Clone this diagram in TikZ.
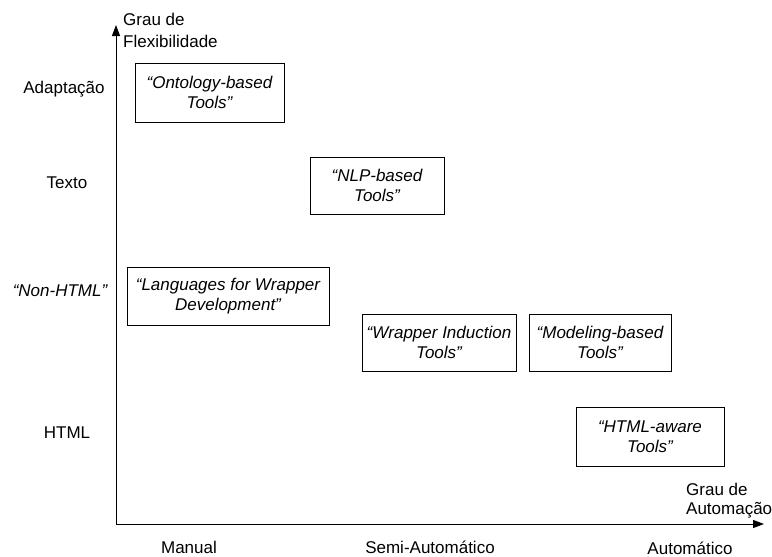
\documentclass[tikz,border=0pt]{standalone}
\usepackage{fontspec}
\setmainfont{Liberation Sans}
\usetikzlibrary{arrows.meta}
\begin{document}
\begin{tikzpicture}[x=1pt,y=-1pt,
  axis/.style={line width=1pt,-{Triangle[length=11pt,width=8pt]}},
  toolbox/.style={draw,line width=0.9pt,rectangle,inner sep=0pt,align=center,
    font=\fontsize{17}{20}\selectfont\itshape},
  lvl/.style={font=\fontsize{17}{20}\selectfont,anchor=base,inner sep=0pt},
  axlabel/.style={align=left,anchor=north west,inner sep=0pt}]
  \useasboundingbox (0,0) rectangle (772,557);

  % axes
  \coordinate (o) at (116,524);
  \coordinate (ytop) at (116,25);
  \coordinate (xend) at (764,524);
  \draw[axis] (o) -- (ytop);
  \draw[axis] (o) -- (xend);

  % axis titles
  \node[axlabel,font=\fontsize{17}{22}\selectfont] (ytitle) at (123,12.5) {Grau de\\Flexibilidade};
  \node[axlabel,font=\fontsize{17}{19}\selectfont] (xtitle) at (686,482.5) {Grau de\\Automação};

  % flexibility levels
  \node[lvl] (adapt) at (64,93) {Adaptação};
  \node[lvl] (texto) at (67,188) {Texto};
  \node[lvl] (nonhtml) at (60,296) {\itshape “Non-HTML”};
  \node[lvl] (html) at (67,438) {HTML};

  % automation levels
  \node[lvl] (manual) at (189,553) {Manual};
  \node[lvl] (semi) at (430,553) {Semi-Automático};
  \node[lvl] (auto) at (690,554) {Automático};

  % tool classes
  \node[toolbox,minimum width=149pt,minimum height=59pt] (onto) at (209.5,92.5) {“Ontology-based\\Tools”};
  \node[toolbox,minimum width=134pt,minimum height=57pt] (nlp) at (377,185.5) {“NLP-based\\Tools”};
  \node[toolbox,minimum width=202pt,minimum height=58pt] (lang) at (228,296) {“Languages for Wrapper\\Development”};
  \node[toolbox,minimum width=154pt,minimum height=57pt] (wrap) at (439,342.5) {“Wrapper Induction\\Tools”};
  \node[toolbox,minimum width=142pt,minimum height=57pt] (model) at (600,342.5) {“Modeling-based\\Tools”};
  \node[toolbox,minimum width=148pt,minimum height=59pt] (htmlaw) at (650,436.5) {“HTML-aware\\Tools”};
\end{tikzpicture}
\end{document}
